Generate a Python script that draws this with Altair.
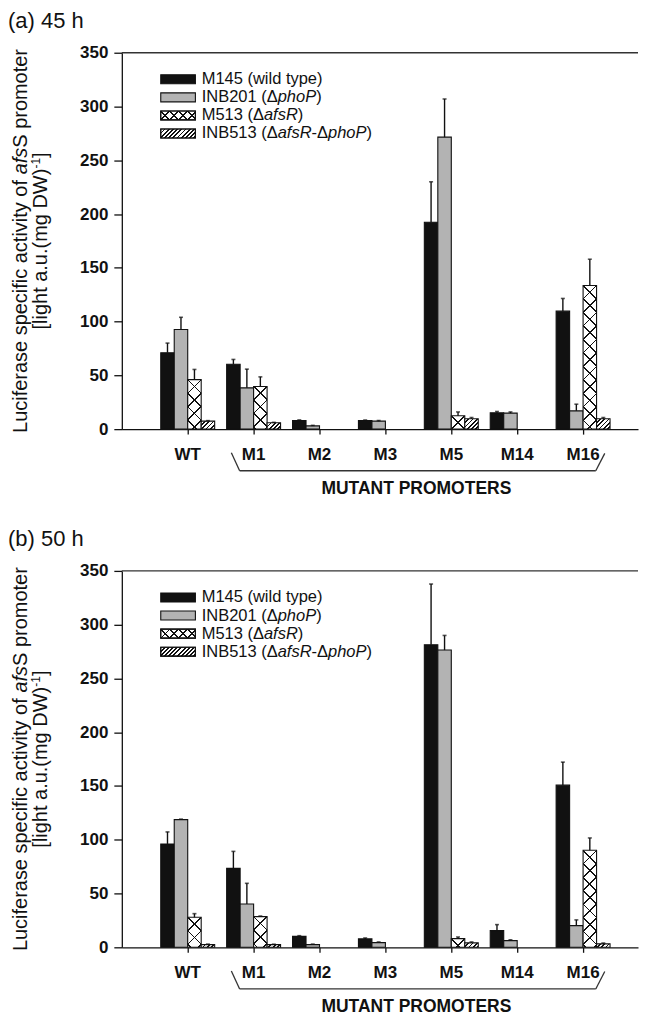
import math
import pandas as pd
import altair as alt

# ---------------- data ----------------
cats = ["WT", "M1", "M2", "M3", "M5", "M14", "M16"]
series = ["M145", "INB201", "M513", "INB513"]

# (a) 45 h
m145_45 = [71, 60.4, 8, 8, 192.4, 15.2, 109.7]
m145_45_err = [9, 4.4, 0.6, 0.5, 37.6, 1.2, 11.8]
inb201_45 = [92.7, 38.4, 3, 7.4, 271.5, 14.9, 17]
inb201_45_err = [11.3, 17.4, 0.5, 0.6, 35.5, 1.1, 6.2]
m513_45 = [46, 39.7, 0, 0, 12.4, 0, 133.6]
m513_45_err = [9.5, 8.9, 0, 0, 3.6, 0, 24.4]
inb513_45 = [7.4, 5.9, 0, 0, 9.6, 0, 9.6]
inb513_45_err = [0.5, 0.4, 0, 0, 1.2, 0, 1.2]

# (b) 50 h
m145_50 = [96.1, 73.4, 10.2, 7.8, 281.4, 15.5, 150.8]
m145_50_err = [11.2, 15.8, 0.6, 0.9, 56.4, 5.6, 21.4]
inb201_50 = [118.7, 40.3, 2.5, 4.4, 276.4, 6.2, 20.2]
inb201_50_err = [0.5, 19.2, 0.5, 0.6, 13.6, 0.8, 5.3]
m513_50 = [27.9, 28.5, 0, 0, 8.1, 0, 90.2]
m513_50_err = [3.4, 0.6, 0, 0, 1.5, 0, 11.5]
inb513_50 = [2.5, 2.5, 0, 0, 4.1, 0, 3.2]
inb513_50_err = [0.5, 0.4, 0, 0, 0.9, 0, 0.8]

yticks = [0, 50, 100, 150, 200, 250, 300, 350]

legend_rows = [
    [("M145 (wild type)", "normal")],
    [("INB201 (\u0394", "normal"), ("phoP", "italic"), (")", "normal")],
    [("M513 (\u0394", "normal"), ("afsR", "italic"), (")", "normal")],
    [("INB513 (\u0394", "normal"), ("afsR", "italic"), ("-\u0394", "normal"),
     ("phoP", "italic"), (")", "normal")],
]
ytitle_1 = [("Luciferase specific activity of ", "normal"), ("afs", "italic"), ("S promoter", "normal")]
ytitle_2 = [("[light a.u.(mg DW)", "normal"), ("-1", "sup"), ("]", "normal")]

# ---------------- layout / style ----------------
FONT = "Liberation Sans"
W, H = 517, 377
STEP = 66.0
PIN = 12.0 / 66.0
POUT = (W / STEP - 7 + PIN) / 2
ALIGN = 39.0 / (W - STEP * (7 - PIN))
BAR_W = STEP * (1 - PIN) / 4
PXU = H / 350.0
GRAY = "#b3b3b3"
INK = "#111111"
CLEAR = "rgba(255,255,255,0)"

CW = {' ': 278, '(': 333, ')': 333, '-': 333, '.': 278, '[': 278, ']': 278,
      'B': 667, 'D': 722, 'I': 278, 'L': 556, 'M': 833, 'N': 722, 'P': 667, 'R': 722,
      'S': 667, 'W': 944, '\u0394': 667,
      'a': 556, 'c': 500, 'd': 556, 'e': 556, 'f': 278, 'g': 556, 'h': 556, 'i': 222,
      'l': 222, 'm': 833, 'n': 556, 'o': 556, 'p': 556, 'r': 333, 's': 500, 't': 278,
      'u': 556, 'v': 500, 'w': 722, 'y': 500}


def tw(s, size):
    return sum(CW.get(c, 556) for c in s) * size / 1000.0


def stripes(w, h, spacing, lw, kind, fg=INK, bg=CLEAR):
    L = w + h
    k = L / (w * w + h * h)
    if kind == "A":
        x1, y1, x2, y2 = 0, 0, k * w, k * h
        cs = [j * spacing for j in range(0, int(L / spacing) + 2)]
    else:
        x1, y1, x2, y2 = 0, 1, k * w, 1 - k * h
        cs = [m * spacing + h for m in range(-int(h / spacing) - 2, int(w / spacing) + 3)]
    half = lw * math.sqrt(2) / 2
    stops = [{"offset": 0, "color": bg}]
    last = 0.0
    for c in sorted(cs):
        a = max((c - half) / L, last)
        b = min((c + half) / L, 1.0)
        if b <= a or a >= 1:
            continue
        stops += [{"offset": a, "color": bg}, {"offset": a, "color": fg},
                  {"offset": b, "color": fg}, {"offset": b, "color": bg}]
        last = b
    stops.append({"offset": 1, "color": bg})
    return {"gradient": "linear", "x1": x1, "y1": y1, "x2": x2, "y2": y2, "stops": stops}


one = pd.DataFrame({"k": [0]})


def txt(text, x, y, size, weight="normal", style="normal", angle=0, align="left",
        baseline="middle"):
    kw = dict(text=text, align=align, baseline=baseline, font=FONT, fontSize=size,
              fontWeight=weight, fontStyle=style, color=INK)
    if angle:
        kw["angle"] = angle
    return alt.Chart(one).mark_text(**kw).encode(x=alt.value(x), y=alt.value(y))


def segs_h(parts, x0, y, size):
    out = []
    x = x0
    for s, st in parts:
        out.append(txt(s, x, y, size, style=st))
        x += tw(s, size)
    return out


def segs_v(parts, x, yc, size, supsize=12):
    total = 0
    for s, st in parts:
        total += tw(s, supsize if st == "sup" else size)
    y = yc + total / 2
    out = []
    for s, st in parts:
        if st == "sup":
            out.append(txt(s, x - 5, y, supsize, angle=270))
            y -= tw(s, supsize)
        else:
            out.append(txt(s, x, y, size, style=st, angle=270))
            y -= tw(s, size)
    return out


def line(x1, y1, x2, y2):
    return alt.Chart(one).mark_rule(color="#333333", strokeWidth=1.3).encode(
        x=alt.value(x1), y=alt.value(y1), x2=alt.value(x2), y2=alt.value(y2))


def rect(x1, y1, x2, y2, fill, stroke=True):
    kw = dict(fill=fill)
    if stroke:
        kw.update(stroke=INK, strokeWidth=1.1)
    else:
        kw.update(strokeWidth=0)
    return alt.Chart(one).mark_rect(**kw).encode(
        x=alt.value(x1), x2=alt.value(x2), y=alt.value(y1), y2=alt.value(y2))


XS = alt.Scale(domain=cats, paddingInner=PIN, paddingOuter=POUT, align=ALIGN)
YS = alt.Scale(domain=[0, 350], nice=False, zero=True)
XAX = alt.Axis(title=None, labelAngle=0, tickSize=5, labelPadding=12, labelFontSize=17)
YAX = alt.Axis(title=None, values=yticks, tickSize=8, labelPadding=6, labelFontSize=17)


def xenc():
    return alt.X("cat:N", sort=cats, scale=XS, axis=XAX)


def xoff():
    return alt.XOffset("series:N", scale=alt.Scale(domain=series, paddingInner=0, paddingOuter=0))


def yenc(field):
    return alt.Y(field + ":Q", scale=YS, axis=YAX, stack=None)


def panel(vals, errs, title):
    rows = []
    for si, s in enumerate(series):
        for ci, c in enumerate(cats):
            rows.append({"cat": c, "series": s, "val": vals[si][ci], "err": errs[si][ci],
                         "top": vals[si][ci] + errs[si][ci]})
    df = pd.DataFrame(rows)
    bars = df[df.val > 0]

    cross = df[(df.series == "M513") & (df.val > 0)].copy()
    cross["gA"] = [stripes(BAR_W, v * PXU, BAR_W, 1.2, "A") for v in cross.val]
    cross["gB"] = [stripes(BAR_W, v * PXU, BAR_W, 1.2, "B") for v in cross.val]
    hatch = df[(df.series == "INB513") & (df.val > 0)].copy()
    hatch["gH"] = [stripes(BAR_W, v * PXU, 4.2, 1.3, "A") for v in hatch.val]
    errdf = df[df.err > 0]

    solid = alt.Chart(bars).mark_bar(stroke=INK, strokeWidth=1.1).encode(
        x=xenc(), xOffset=xoff(), y=yenc("val"),
        fill=alt.Fill("series:N", scale=alt.Scale(domain=series,
                                                   range=[INK, GRAY, "#ffffff", "#ffffff"]),
                      legend=None),
    )

    def patt(d, field):
        return alt.Chart(d).mark_bar(strokeWidth=0).encode(
            x=xenc(), xOffset=xoff(), y=yenc("val"),
            fill=alt.Fill(field + ":N", scale=None),
        )

    erule = alt.Chart(errdf).mark_rule(color=INK, strokeWidth=1.4).encode(
        x=xenc(), xOffset=xoff(), y=yenc("val"), y2="top:Q")
    ecap = alt.Chart(errdf).mark_tick(color=INK, thickness=1.6, size=4,
                                      orient="horizontal").encode(
        x=xenc(), xOffset=xoff(), y=yenc("top"))

    layers = [solid, patt(cross, "gA"), patt(cross, "gB"), patt(hatch, "gH"), erule, ecap]

    # frame top line
    layers.append(line(0, 0, W, 0))

    # title
    layers.append(txt(title, -114, -24.7, 22, baseline="alphabetic"))

    # y title
    layers += segs_v(ytitle_1, -101, H / 2, 20)
    layers += segs_v(ytitle_2, -80.5, H / 2, 20)

    # legend
    lx1, lx2 = 39, 73.7
    for i, parts in enumerate(legend_rows):
        cy = 26.6 + 18.1 * i
        y1, y2 = cy - 4.5, cy + 4.5
        if i == 0:
            layers.append(rect(lx1, y1, lx2, y2, INK))
        elif i == 1:
            layers.append(rect(lx1, y1, lx2, y2, GRAY))
        elif i == 2:
            layers.append(rect(lx1, y1, lx2, y2, "#ffffff"))
            layers.append(rect(lx1, y1, lx2, y2, stripes(lx2 - lx1, 9, 9, 1.2, "A"), stroke=False))
            layers.append(rect(lx1, y1, lx2, y2, stripes(lx2 - lx1, 9, 9, 1.2, "B"), stroke=False))
            layers.append(rect(lx1, y1, lx2, y2, CLEAR))
        else:
            layers.append(rect(lx1, y1, lx2, y2, "#ffffff"))
            layers.append(rect(lx1, y1, lx2, y2, stripes(lx2 - lx1, 9, 4.2, 1.3, "A"), stroke=False))
            layers.append(rect(lx1, y1, lx2, y2, CLEAR))
        layers += segs_h(parts, 80, cy, 16.5)

    # bracket + label
    layers.append(line(109.7, H + 23.7, 118, H + 41.7))
    layers.append(line(118, H + 41.7, 474.7, H + 41.7))
    layers.append(line(474.7, H + 41.7, 483.7, H + 24.3))
    layers.append(txt("MUTANT PROMOTERS", 295, H + 64.5, 17.5, weight="bold", align="center",
                      baseline="alphabetic"))

    return alt.layer(*layers).properties(width=W, height=H)


pa = panel([m145_45, inb201_45, m513_45, inb513_45],
           [m145_45_err, inb201_45_err, m513_45_err, inb513_45_err], "(a) 45 h")
pb = panel([m145_50, inb201_50, m513_50, inb513_50],
           [m145_50_err, inb201_50_err, m513_50_err, inb513_50_err], "(b) 50 h")

chart = alt.vconcat(pa, pb, spacing=142, bounds="flush").properties(
    padding={"left": 0, "top": 1, "right": 0, "bottom": 0}
).configure_view(stroke=None).configure_axis(
    labelFont=FONT, labelFontWeight="bold", labelColor=INK, domainColor=INK,
    tickColor=INK, domainWidth=1.3, tickWidth=1.3, grid=False
)

chart.save("out.html", embed_options={"renderer": "svg", "actions": False})
